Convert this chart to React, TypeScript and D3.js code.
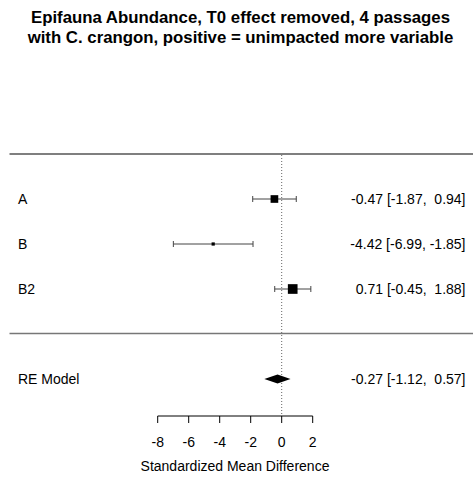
import React from "react";
import * as d3 from "d3";

const studies = ["A", "B", "B2"];
const estimates = [-0.47, -4.42, 0.71];
const ciLower = [-1.87, -6.99, -0.45];
const ciUpper = [0.94, -1.85, 1.88];
const modelLabel = "RE Model";
const modelEstimate = -0.27;
const modelLower = -1.12;
const modelUpper = 0.57;
const xTicks = [-8, -6, -4, -2, 0, 2];
const titleLines = [
  "Epifauna Abundance, T0 effect removed, 4 passages",
  "with C. crangon, positive = unimpacted more variable",
];
const xLabel = "Standardized Mean Difference";

const fmt = (v: number) => {
  const s = v.toFixed(2);
  return v < 0 ? s : " " + s;
};
const annot = (e: number, l: number, u: number) =>
  `${e.toFixed(2)} [${l.toFixed(2)}, ${fmt(u)}]`;

export default function App() {
  const W = 473;
  const H = 477;
  const x = d3.scaleLinear().domain([-8, 2]).range([157.7, 312.7]);
  const y = d3.scaleLinear().domain([3, 1]).range([199, 289]);
  const k = studies.length;
  const font = "'Liberation Sans', Arial, sans-serif";
  const fs = 14;

  // point sizes proportional to 1/se, as in metafor
  const se = ciLower.map((l, i) => (ciUpper[i] - l) / (2 * 1.96));
  const wi = se.map((s) => 1 / s);
  const wMin = d3.min(wi)!;
  const wMax = d3.max(wi)!;
  const psize = wi.map((w) => ((w - wMin) / (wMax - wMin)) * 1 + 0.5);
  const boxUnit = 6.45;

  const rows = studies.map((_, i) => k - i);
  const axisY = 416;
  const modelRow = -1;

  return (
    <svg
      width={W}
      height={H}
      style={{ position: "absolute", left: 0, top: 0, background: "#fff" }}
      fontFamily={font}
    >
      {titleLines.map((t, i) => (
        <text
          key={i}
          x={240.5}
          y={22.5 + i * 20}
          textAnchor="middle"
          fontWeight="bold"
          fontSize={16.8}
          fill="#000"
        >
          {t}
        </text>
      ))}
      {/* top line */}
      <line x1={9.5} x2={W} y1={y(k + 1)} y2={y(k + 1)} stroke="#000" strokeWidth={1.2} />
      {/* separator */}
      <line x1={9.5} x2={W} y1={y(0) - 0.5} y2={y(0) - 0.5} stroke="#777" strokeWidth={1.5} />
      {/* reference line */}
      <line
        x1={x(0)}
        x2={x(0)}
        y1={y(k + 1) + 1}
        y2={axisY}
        stroke="#666"
        strokeWidth={1}
        strokeDasharray="1,2"
      />
      {studies.map((s, i) => {
        const yy = y(rows[i]);
        const sz = psize[i] * boxUnit;
        return (
          <g key={s}>
            <text x={18} y={yy} dy="0.35em" fontSize={fs} fill="#000">
              {s}
            </text>
            <line x1={x(ciLower[i])} x2={x(ciUpper[i])} y1={yy} y2={yy} stroke="#444" strokeWidth={1} />
            <line x1={x(ciLower[i])} x2={x(ciLower[i])} y1={yy - 3} y2={yy + 3} stroke="#444" strokeWidth={1} />
            <line x1={x(ciUpper[i])} x2={x(ciUpper[i])} y1={yy - 3} y2={yy + 3} stroke="#444" strokeWidth={1} />
            <rect x={x(estimates[i]) - sz / 2} y={yy - sz / 2} width={sz} height={sz} fill="#000" />
            <text
              x={465.5}
              y={yy}
              dy="0.35em"
              textAnchor="end"
              fontSize={fs}
              fill="#000"
              style={{ whiteSpace: "pre" }}
            >
              {annot(estimates[i], ciLower[i], ciUpper[i])}
            </text>
          </g>
        );
      })}
      {/* model */}
      <text x={18} y={y(modelRow)} dy="0.35em" fontSize={fs} fill="#000">
        {modelLabel}
      </text>
      <polygon
        points={[
          [x(modelLower), y(modelRow)],
          [x(modelEstimate), y(modelRow) - 4.5],
          [x(modelUpper), y(modelRow)],
          [x(modelEstimate), y(modelRow) + 4.5],
        ]
          .map((p) => p.join(","))
          .join(" ")}
        fill="#000"
      />
      <text
        x={465.5}
        y={y(modelRow)}
        dy="0.35em"
        textAnchor="end"
        fontSize={fs}
        fill="#000"
        style={{ whiteSpace: "pre" }}
      >
        {annot(modelEstimate, modelLower, modelUpper)}
      </text>
      {/* axis */}
      <line x1={x(-8)} x2={x(2)} y1={axisY} y2={axisY} stroke="#000" strokeWidth={1} />
      {xTicks.map((t) => (
        <g key={t}>
          <line x1={x(t)} x2={x(t)} y1={axisY} y2={axisY + 7} stroke="#000" strokeWidth={1} />
          <text x={x(t)} y={442} dy="0.35em" textAnchor="middle" fontSize={fs} fill="#000">
            {t}
          </text>
        </g>
      ))}
      <text x={235} y={466.5} dy="0.35em" textAnchor="middle" fontSize={fs} fill="#000">
        {xLabel}
      </text>
    </svg>
  );
}
